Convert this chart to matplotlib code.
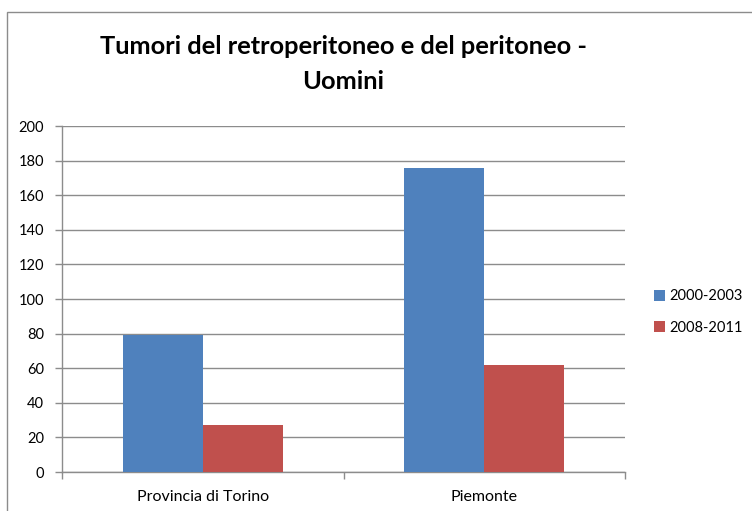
import numpy as np
import matplotlib.pyplot as plt
from matplotlib.patches import Rectangle

plt.rcParams['font.family'] = ['Lato', 'DejaVu Sans']

categorie = ['Provincia di Torino', 'Piemonte']
periodi = ['2000-2003', '2008-2011']
valori_2000 = [79, 176]
valori_2008 = [27, 62]
colori = ['#4F81BD', '#C0504D']
yticks = list(range(0, 201, 20))

W, H = 752, 511
fig = plt.figure(figsize=(W / 100, H / 100), dpi=100, facecolor='white')

# cornice del grafico (esce dai bordi a destra e in basso, come nello screenshot)
fig.patches.append(Rectangle((7 / W, -0.05), 1.1, (H - 12) / H + 0.05,
                             transform=fig.transFigure, fill=False,
                             edgecolor='#8c8c8c', lw=1.0))

ax = fig.add_axes([62 / W, (H - 472) / H, (625 - 62) / W, (472 - 126) / H])

x = np.arange(len(categorie)) + 0.5
w = 0.284
ax.bar(x - w / 2, valori_2000, w, color=colori[0], label=periodi[0], zorder=3)
ax.bar(x + w / 2, valori_2008, w, color=colori[1], label=periodi[1], zorder=3)

ax.set_xlim(0, len(categorie))
ax.set_ylim(0, 200)
ax.set_yticks(yticks)
ax.yaxis.grid(True, color='#8c8c8c', lw=1.0, zorder=0)
ax.set_axisbelow(True)

ax.set_xticks(x)
ax.set_xticklabels(categorie, fontsize=11.5)
ax.set_xticks(np.arange(len(categorie) + 1), minor=True)
ax.tick_params(axis='x', which='major', length=0, pad=13)
ax.tick_params(axis='x', which='minor', length=5, color='#8c8c8c', width=1)
ax.tick_params(axis='y', length=5, color='#8c8c8c', width=1, labelsize=10.5, pad=8)

for s in ['top', 'right']:
    ax.spines[s].set_visible(False)
for s in ['left', 'bottom']:
    ax.spines[s].set_color('#8c8c8c')
    ax.spines[s].set_linewidth(1.0)

fig.text(0.5 * (97 + 590) / W, (H - 64) / H,
         'Tumori del retroperitoneo e del peritoneo -\nUomini',
         ha='center', va='center', fontsize=18.3, fontweight='bold',
         linespacing=1.65)

fig.legend(loc='center left', bbox_to_anchor=(647 / W, (H - 312) / H),
           frameon=False, fontsize=10.5, handlelength=0.75, handleheight=0.75,
           handletextpad=0.3, labelspacing=1.2, borderpad=0)

fig.savefig('out.png', dpi=100)
